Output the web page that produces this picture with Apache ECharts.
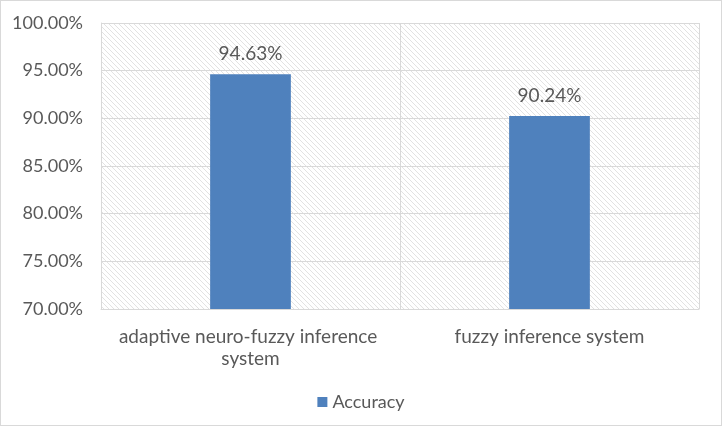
<!DOCTYPE html>
<html>
<head>
<meta charset="utf-8">
<script src="https://cdn.jsdelivr.net/npm/echarts@6/dist/echarts.min.js"></script>
<style>
  html, body { margin: 0; padding: 0; background: #fff; }
  #main { width: 722px; height: 426px; box-sizing: border-box; border: 1px solid #d9d9d9; }
</style>
</head>
<body>
<div id="main"></div>
<script>
var categories = ['adaptive neuro-fuzzy inference system', 'fuzzy inference system'];
var accuracy = [94.63, 90.24];
var seriesName = 'Accuracy';

// diagonal hatch for the plot area
function hatch() {
    var c = document.createElement('canvas');
    c.width = 5;
    c.height = 5;
    var ctx = c.getContext('2d');
    ctx.fillStyle = '#fff';
    ctx.fillRect(0, 0, 5, 5);
    ctx.strokeStyle = '#e2e2e2';
    ctx.lineWidth = 1;
    ctx.beginPath();
    ctx.moveTo(-1, -1); ctx.lineTo(6, 6);
    ctx.moveTo(-1, 4); ctx.lineTo(1, 6);
    ctx.moveTo(4, -1); ctx.lineTo(6, 1);
    ctx.stroke();
    return c;
}

var myChart = echarts.init(document.getElementById('main'));
var textColor = '#595959';
var font = 'Lato';

myChart.setOption({
    animation: false,
    grid: {
        left: 100,
        right: 22,
        top: 22,
        bottom: 116,
        show: true,
        borderWidth: 0,
        backgroundColor: { image: hatch(), repeat: 'repeat' }
    },
    legend: {
        bottom: 9,
        left: 'center',
        itemWidth: 10,
        itemHeight: 10,
        icon: 'rect',
        textStyle: { color: textColor, fontFamily: font, fontSize: 18 },
        data: [seriesName]
    },
    xAxis: {
        type: 'category',
        data: categories,
        axisLine: { show: true, lineStyle: { color: '#d9d9d9' } },
        axisTick: { show: false },
        splitLine: { show: true, lineStyle: { color: '#d9d9d9' } },
        axisLabel: {
            color: textColor,
            fontFamily: font,
            fontSize: 19,
            margin: 17,
            width: 280,
            overflow: 'break',
            lineHeight: 22,
            interval: 0
        }
    },
    yAxis: {
        type: 'value',
        min: 70,
        max: 100,
        interval: 5,
        axisLine: { show: true, lineStyle: { color: '#d9d9d9' } },
        axisTick: { show: false },
        splitLine: { lineStyle: { color: '#d9d9d9' } },
        axisLabel: {
            color: textColor,
            fontFamily: font,
            fontSize: 18,
            margin: 18,
            formatter: function (v) { return v.toFixed(2) + '%'; }
        }
    },
    series: [{
        name: seriesName,
        type: 'bar',
        data: accuracy,
        barWidth: '27%',
        itemStyle: { color: '#4f81bd' },
        label: {
            show: true,
            position: 'top',
            distance: 11,
            color: textColor,
            fontFamily: font,
            fontSize: 19,
            formatter: function (p) { return p.value.toFixed(2) + '%'; }
        }
    }]
});
</script>
</body>
</html>
